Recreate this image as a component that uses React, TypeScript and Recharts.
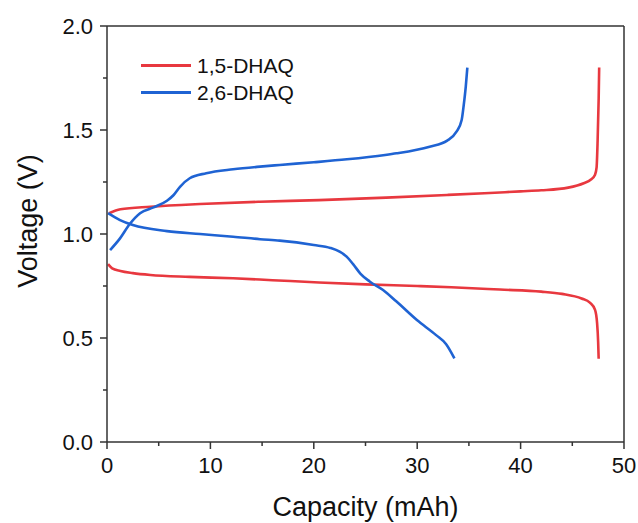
import { Legend, Line, LineChart, ReferenceLine, XAxis, YAxis } from 'recharts'

// 1,5-DHAQ charge / discharge (capacity in mAh, voltage in V)
const dhaq15ChargeCap = [0.2, 1.3, 4.2, 9, 14.8, 20.5, 27, 33, 36.5, 40, 42, 44.6, 46.1, 46.8, 47.2, 47.35, 47.45, 47.55, 47.6]
const dhaq15ChargeV = [1.1, 1.119, 1.131, 1.144, 1.155, 1.163, 1.175, 1.188, 1.196, 1.205, 1.21, 1.223, 1.244, 1.262, 1.285, 1.32, 1.45, 1.65, 1.8]
const dhaq15DischargeCap = [0.1, 0.5, 1.3, 2.5, 4.2, 8, 12.2, 16, 20.5, 25, 30, 33.3, 38, 42, 44, 45.9, 46.7, 47.2, 47.4, 47.5, 47.55]
const dhaq15DischargeV = [0.855, 0.835, 0.822, 0.812, 0.803, 0.794, 0.787, 0.778, 0.767, 0.758, 0.75, 0.744, 0.733, 0.723, 0.712, 0.69, 0.67, 0.635, 0.57, 0.48, 0.4]

// 2,6-DHAQ charge / discharge
const dhaq26ChargeCap = [0.3, 1.26, 2.2, 3.2, 4.5, 5.8, 6.4, 7.06, 8.0, 9.6, 12.2, 14.8, 16.7, 20, 23.2, 26.9, 28, 31.2, 32.9, 33.8, 34.3, 34.5, 34.7, 34.85]
const dhaq26ChargeV = [0.923, 0.979, 1.048, 1.1, 1.128, 1.16, 1.185, 1.227, 1.268, 1.292, 1.311, 1.324, 1.332, 1.345, 1.359, 1.38, 1.388, 1.42, 1.449, 1.492, 1.548, 1.62, 1.71, 1.8]
const dhaq26DischargeCap = [0.1, 1.26, 2.5, 5.8, 9, 12.2, 14.8, 16.7, 20, 21.6, 22.5, 23.2, 23.8, 24.5, 25.4, 26.7, 28, 30, 31.8, 32.8, 33.6]
const dhaq26DischargeV = [1.1, 1.067, 1.043, 1.014, 1.0, 0.987, 0.975, 0.968, 0.947, 0.933, 0.915, 0.89, 0.855, 0.81, 0.772, 0.731, 0.675, 0.585, 0.515, 0.47, 0.402]

const seriesNames = ['1,5-DHAQ', '2,6-DHAQ']
const seriesColors = ['#e8383f', '#1f63d3']

const xMajorTicks = [0, 10, 20, 30, 40, 50]
const xMinorTicks = [5, 15, 25, 35, 45]
const yMajorTicks = [0, 0.5, 1, 1.5, 2]
const yMinorTicks = [0.25, 0.75, 1.25, 1.75]

const toPoints = (cap: number[], v: number[]) => cap.map((c, i) => ({ c, v: v[i] }))

const curves = [
  { key: 'c15', data: toPoints(dhaq15ChargeCap, dhaq15ChargeV), color: seriesColors[0] },
  { key: 'd15', data: toPoints(dhaq15DischargeCap, dhaq15DischargeV), color: seriesColors[0] },
  { key: 'c26', data: toPoints(dhaq26ChargeCap, dhaq26ChargeV), color: seriesColors[1] },
  { key: 'd26', data: toPoints(dhaq26DischargeCap, dhaq26DischargeV), color: seriesColors[1] },
]

const axisColor = '#333'
const font = '"Liberation Sans", Arial, sans-serif'

function XTick(props: any) {
  const { x, y, payload } = props
  const major = xMajorTicks.includes(payload.value)
  return (
    <g>
      <line x1={x} y1={y} x2={x} y2={y + (major ? 7 : 4)} stroke={axisColor} strokeWidth={1.5} />
      {major && (
        <text x={x} y={y + 31} textAnchor="middle" fontSize={22} fontFamily={font} fill="#111">
          {payload.value}
        </text>
      )}
    </g>
  )
}

function YTick(props: any) {
  const { x, y, payload } = props
  const major = yMajorTicks.includes(payload.value)
  return (
    <g>
      <line x1={x} y1={y} x2={x - (major ? 7 : 4)} y2={y} stroke={axisColor} strokeWidth={1.5} />
      {major && (
        <text x={x - 14} y={y + 8} textAnchor="end" fontSize={22} fontFamily={font} fill="#111">
          {payload.value.toFixed(1)}
        </text>
      )}
    </g>
  )
}

function LegendBox() {
  return (
    <div style={{ fontFamily: font, fontSize: 21, color: '#111' }}>
      {seriesNames.map((name, i) => (
        <div key={name} style={{ display: 'flex', alignItems: 'center', height: 27 }}>
          <div style={{ width: 50, height: 3, background: seriesColors[i] }} />
          <span style={{ marginLeft: 6 }}>{name}</span>
        </div>
      ))}
    </div>
  )
}

export default function App() {
  return (
    <div style={{ position: 'absolute', left: 0, top: 0, background: '#fff' }}>
      <LineChart width={638} height={523} margin={{ top: 26, right: 14, left: 0, bottom: 0 }}>
        <XAxis
          type="number"
          dataKey="c"
          domain={[0, 50]}
          ticks={[...xMajorTicks, ...xMinorTicks].sort((a, b) => a - b)}
          interval={0}
          height={81}
          tickSize={0}
          tickMargin={0}
          tickLine={false}
          tick={<XTick />}
          axisLine={{ stroke: axisColor, strokeWidth: 1.5 }}
          allowDataOverflow
          label={(p: any) => {
            const vb = p.viewBox
            return (
              <text x={vb.x + vb.width / 2} y={vb.y + 74} textAnchor="middle" fontSize={27} fontFamily={font} fill="#111">
                Capacity (mAh)
              </text>
            )
          }}
        />
        <YAxis
          type="number"
          dataKey="v"
          domain={[0, 2]}
          ticks={[...yMajorTicks, ...yMinorTicks].sort((a, b) => a - b)}
          interval={0}
          width={107}
          tickSize={0}
          tickMargin={0}
          tickLine={false}
          tick={<YTick />}
          axisLine={{ stroke: axisColor, strokeWidth: 1.5 }}
          allowDataOverflow
          label={(p: any) => {
            const vb = p.viewBox
            const cx = vb.x + 28
            const cy = vb.y + vb.height / 2 - 13
            return (
              <text
                x={cx}
                y={cy}
                transform={`rotate(-90, ${cx}, ${cy})`}
                textAnchor="middle"
                dominantBaseline="central"
                fontSize={27}
                fontFamily={font}
                fill="#111"
              >
                Voltage (V)
              </text>
            )
          }}
        />
        <ReferenceLine y={2} stroke={axisColor} strokeWidth={1.5} />
        <ReferenceLine x={50} stroke={axisColor} strokeWidth={1.5} />
        {curves.map((s) => (
          <Line
            key={s.key}
            data={s.data}
            dataKey="v"
            type="monotone"
            stroke={s.color}
            strokeWidth={2.6}
            dot={false}
            activeDot={false}
            legendType="none"
            isAnimationActive={false}
          />
        ))}
        <Legend
          layout="vertical"
          align="center"
          verticalAlign="middle"
          content={<LegendBox />}
          wrapperStyle={{ left: 141, top: 52, width: 'auto' }}
        />
      </LineChart>
    </div>
  )
}
